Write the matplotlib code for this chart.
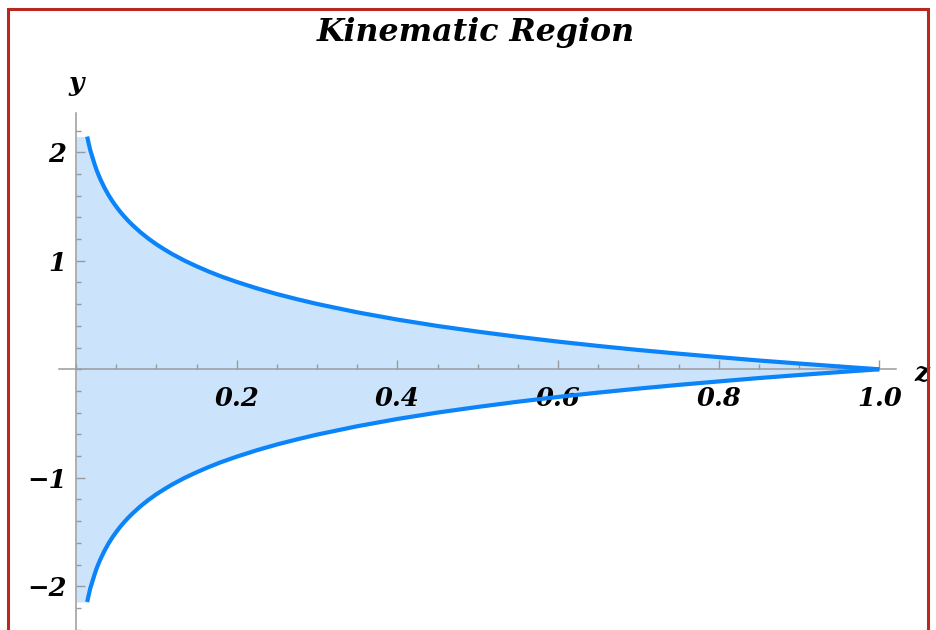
import matplotlib
matplotlib.use("Agg")
import matplotlib.pyplot as plt
from matplotlib.patches import Rectangle
from matplotlib.ticker import MultipleLocator, FixedLocator

# Data
z_vals = [0.0, 0.0137, 0.015, 0.0175, 0.02, 0.0225, 0.025, 0.0275, 0.03, 0.035, 0.04,
          0.045, 0.05, 0.055, 0.06, 0.065, 0.07, 0.08, 0.09, 0.10, 0.11, 0.12,
          0.135, 0.15, 0.165, 0.18, 0.20, 0.225, 0.25, 0.275, 0.30, 0.35, 0.40,
          0.45, 0.50, 0.55, 0.60, 0.65, 0.70, 0.75, 0.80, 0.85, 0.90, 0.95, 1.00]
y_upper = [2.145, 2.145, 2.10, 2.02, 1.96, 1.90, 1.844, 1.797, 1.753, 1.676, 1.609,
           1.550, 1.498, 1.450, 1.407, 1.367, 1.330, 1.263, 1.204, 1.151, 1.104, 1.060,
           1.001, 0.949, 0.901, 0.857, 0.805, 0.746, 0.693, 0.646, 0.602, 0.525, 0.458,
           0.399, 0.347, 0.299, 0.255, 0.215, 0.178, 0.144, 0.112, 0.081, 0.053, 0.026, 0.0]
y_lower = [-2.145, -2.145, -2.10, -2.02, -1.96, -1.90, -1.844, -1.797, -1.753, -1.676, -1.609,
           -1.550, -1.498, -1.450, -1.407, -1.367, -1.330, -1.263, -1.204, -1.151, -1.104, -1.060,
           -1.001, -0.949, -0.901, -0.857, -0.805, -0.746, -0.693, -0.646, -0.602, -0.525, -0.458,
           -0.399, -0.347, -0.299, -0.255, -0.215, -0.178, -0.144, -0.112, -0.081, -0.053, -0.026, 0.0]
x_ticks = [0.2, 0.4, 0.6, 0.8, 1.0]
x_tick_labels = ["0.2", "0.4", "0.6", "0.8", "1.0"]
y_ticks = [-2, -1, 1, 2]
y_tick_labels = ["\u22122", "\u22121", "1", "2"]
title = "Kinematic Region"

W, H = 936, 630
fig = plt.figure(figsize=(W / 100, H / 100), dpi=100)
font = dict(family=["DejaVu Serif"], weight="bold", style="italic")

ax = fig.add_axes([59 / W, 0.0, (896 - 59) / W, 1 - 113 / H])
ax.set_xlim(-0.0214, 1.0208)
ax.set_ylim(-2.403, 2.362)

line_col = "#0A84F8"
fill_col = "#CCE4FB"
ax.fill_between(z_vals, y_upper, y_lower, color=fill_col, lw=0, zorder=1)
ax.plot(z_vals[1:], y_upper[1:], color=line_col, lw=3.0, zorder=3,
        solid_capstyle="butt", solid_joinstyle="round")
ax.plot(z_vals[1:], y_lower[1:], color=line_col, lw=3.0, zorder=3,
        solid_capstyle="butt", solid_joinstyle="round")

for s in ["top", "right"]:
    ax.spines[s].set_visible(False)
ax.spines["left"].set_position(("data", 0))
ax.spines["bottom"].set_position(("data", 0))
for s in ["left", "bottom"]:
    ax.spines[s].set_color("#9a9a9a")
    ax.spines[s].set_linewidth(1.1)
    ax.spines[s].set_zorder(2)
ax.patch.set_alpha(0)

ax.xaxis.set_major_locator(FixedLocator(x_ticks))
ax.set_xticklabels(x_tick_labels, **font, fontsize=18.5)
ax.xaxis.set_minor_locator(MultipleLocator(0.05))
ax.yaxis.set_major_locator(FixedLocator(y_ticks))
ax.set_yticklabels(y_tick_labels, **font, fontsize=18.5)
ax.yaxis.set_minor_locator(MultipleLocator(0.2))
ax.tick_params(which="both", direction="in", color="#9a9a9a", width=1.0)
ax.tick_params(which="major", length=6.5)
ax.tick_params(which="minor", length=3.6)
ax.tick_params(axis="x", which="major", pad=12)
ax.tick_params(axis="y", which="major", pad=7)

fig.text(76 / W, 1 - 84 / H, "y", ha="center", va="center", fontsize=19, **font)
fig.text(922 / W, 1 - 373 / H, "z", ha="center", va="center", fontsize=19, **font)
fig.text(476 / W, 1 - 33 / H, title, ha="center", va="center", fontsize=22.8, **font)

fig.patches.append(Rectangle((8 / W, -0.05), (928 - 8) / W, 1 - 9 / H + 0.05,
                             transform=fig.transFigure, fill=False,
                             edgecolor="#B8281E", lw=2.2, zorder=10))

fig.savefig("out.png", dpi=100)
